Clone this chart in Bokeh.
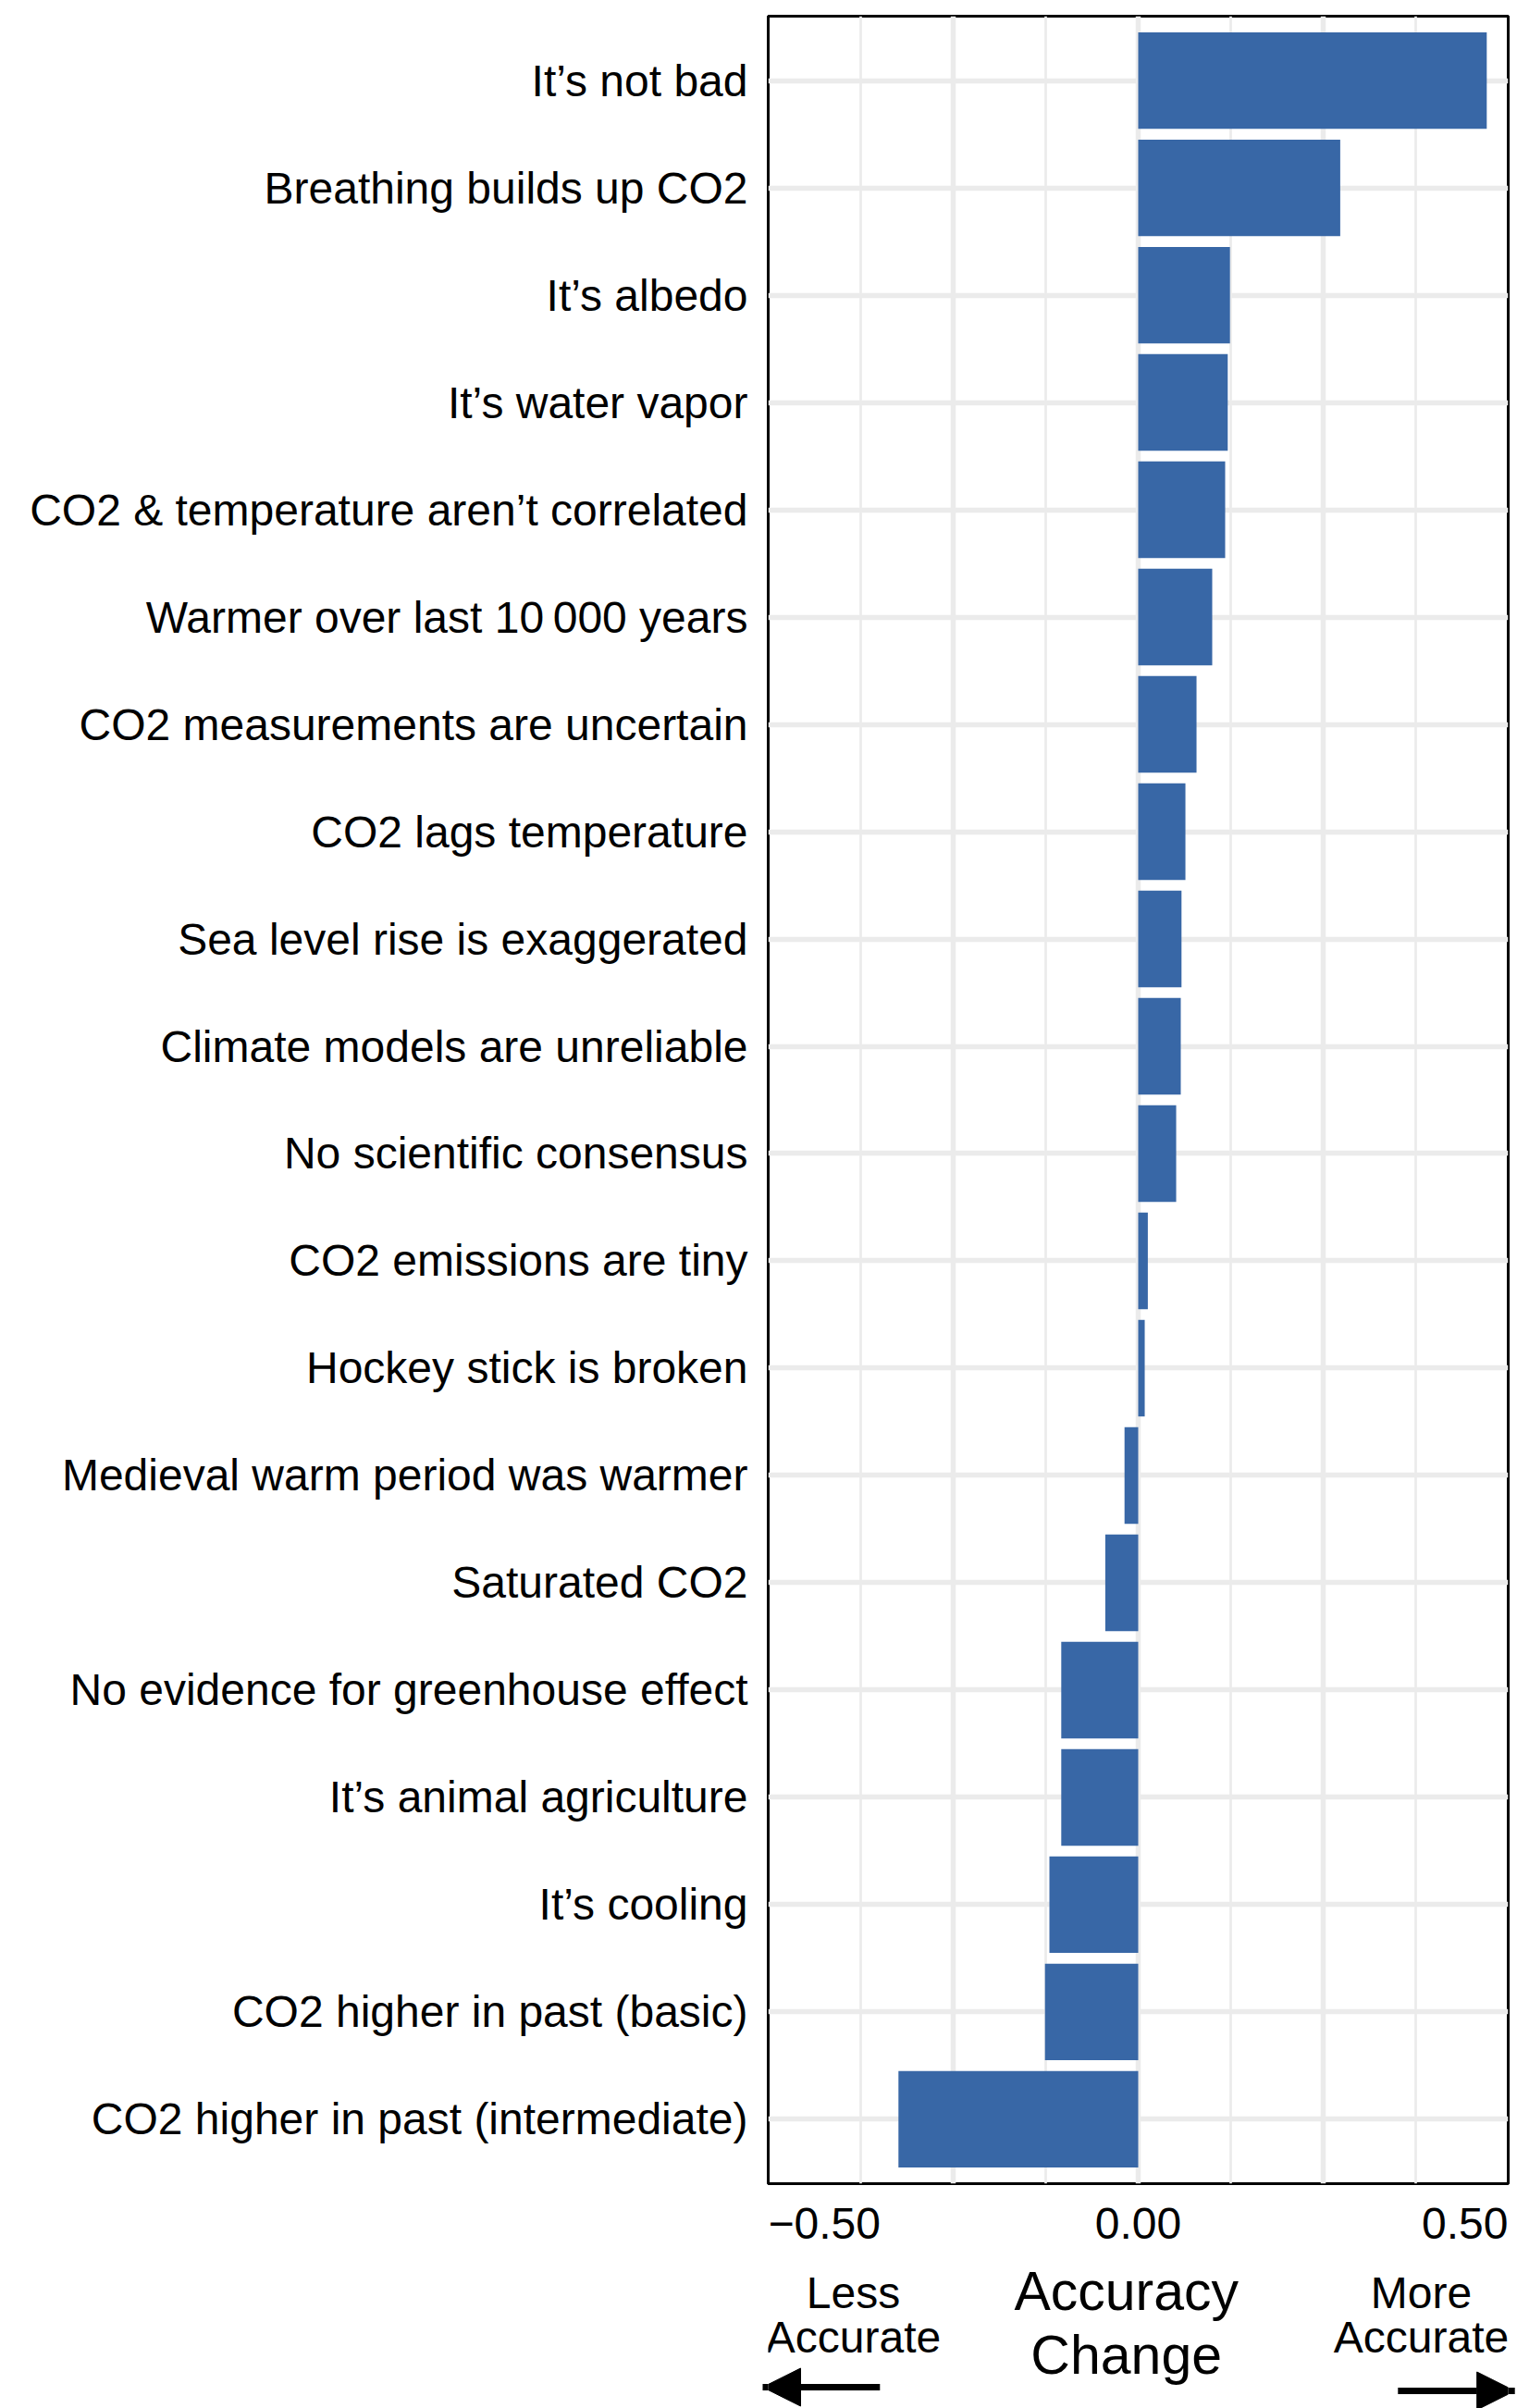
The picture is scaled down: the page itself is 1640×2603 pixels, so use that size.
from bokeh.plotting import figure
from bokeh.models import (Range1d, FactorRange, FixedTicker, Arrow, NormalHead,
                          ColumnDataSource, Grid, Label)
from bokeh.layouts import column
from bokeh.embed import file_html
from bokeh.resources import INLINE

# ---------------- data ----------------
categories = [
    "It\u2019s not bad",
    "Breathing builds up CO2",
    "It\u2019s albedo",
    "It\u2019s water vapor",
    "CO2 & temperature aren\u2019t correlated",
    "Warmer over last 10\u2009000 years",
    "CO2 measurements are uncertain",
    "CO2 lags temperature",
    "Sea level rise is exaggerated",
    "Climate models are unreliable",
    "No scientific consensus",
    "CO2 emissions are tiny",
    "Hockey stick is broken",
    "Medieval warm period was warmer",
    "Saturated CO2",
    "No evidence for greenhouse effect",
    "It\u2019s animal agriculture",
    "It\u2019s cooling",
    "CO2 higher in past (basic)",
    "CO2 higher in past (intermediate)",
]
accuracy_change = [
    0.471, 0.273, 0.124, 0.121, 0.1175, 0.100, 0.0788, 0.0638, 0.0585, 0.0575,
    0.0513, 0.013, 0.0088, -0.0185, -0.0445, -0.104, -0.104, -0.120, -0.126, -0.324,
]
x_ticks = [-0.5, 0.0, 0.5]
x_tick_labels = ["\u22120.50", "0.00", "0.50"]
major_grid = [-0.25, 0.0, 0.25]
minor_grid = [-0.375, -0.125, 0.125, 0.375]
axis_title_lines = ["Accuracy", "Change"]
less_lines = ["Less", "Accurate"]
more_lines = ["More", "Accurate"]

# ---------------- layout / style ----------------
W = 1640
FRAME_L = 830
FRAME_R = 10
TOP = 17
H1 = 2364
H2 = 2603 - H1
FONT = "Liberation Sans"
BAR = "#3867A6"
GRID = "#EBEBEB"

p = figure(
    width=W, height=H1,
    x_range=Range1d(-0.5, 0.5),
    y_range=FactorRange(factors=categories[::-1], range_padding=0.1,
                        range_padding_units="absolute"),
    x_axis_location=None,
    output_backend="svg", toolbar_location=None,
    min_border_left=FRAME_L, min_border_right=FRAME_R,
    min_border_top=TOP, min_border_bottom=4,
)
p.background_fill_color = "white"
p.border_fill_color = "white"
p.outline_line_color = "black"
p.outline_line_width = 3
p.outline_line_alpha = 1.0

p.xgrid.visible = False
xg = Grid(dimension=0, ticker=FixedTicker(ticks=major_grid, minor_ticks=minor_grid),
          grid_line_color=GRID, grid_line_width=5.5,
          minor_grid_line_color=GRID, minor_grid_line_width=2.7)
p.add_layout(xg, "center")
p.ygrid.grid_line_color = GRID
p.ygrid.grid_line_width = 5.5

src = ColumnDataSource(dict(cat=categories, val=accuracy_change))
p.hbar(y="cat", left=0, right="val", height=0.9, source=src,
       fill_color=BAR, line_color=None)

ax = p.yaxis[0]
ax.axis_line_color = None
ax.major_tick_line_color = None
ax.minor_tick_line_color = None
ax.major_tick_in = 0
ax.major_tick_out = 0
ax.major_label_standoff = 22
ax.major_label_text_font = FONT
ax.major_label_text_font_size = "48px"
ax.major_label_text_color = "black"

# ---------------- bottom strip: tick labels, title, arrows ----------------
p2 = figure(
    width=W, height=H2,
    x_range=Range1d(-0.5, 0.5),
    y_range=Range1d(H2, 0),
    x_axis_location=None, y_axis_location=None,
    output_backend="svg", toolbar_location=None,
    min_border_left=FRAME_L, min_border_right=FRAME_R,
    min_border_top=0, min_border_bottom=0,
)
p2.outline_line_color = None
p2.background_fill_color = "white"
p2.border_fill_color = "white"
p2.grid.visible = False


def add_label(fig, x, y, text, align, size):
    fig.add_layout(Label(x=x, y=y, text=text, x_units="data", y_units="data",
                         text_align=align, text_baseline="alphabetic",
                         text_font=FONT, text_font_size=size, text_color="black"))


for xv, lab, al in zip(x_ticks, x_tick_labels, ["left", "center", "right"]):
    add_label(p2, xv, 39, lab, al, "48px")

for line, yv in zip(less_lines, [114, 162]):
    add_label(p2, -0.385, yv, line, "center", "48px")
for line, yv in zip(more_lines, [114, 162]):
    add_label(p2, 0.3825, yv, line, "center", "48px")
for line, yv in zip(axis_title_lines, [112, 181]):
    add_label(p2, -0.016, yv, line, "center", "59px")

p2.add_layout(Arrow(end=NormalHead(size=41, fill_color="black", line_color="black"),
                    x_start=-0.349, y_start=216, x_end=-0.5075, y_end=216,
                    line_width=7, line_color="black"))
p2.add_layout(Arrow(end=NormalHead(size=41, fill_color="black", line_color="black"),
                    x_start=0.351, y_start=220, x_end=0.509, y_end=220,
                    line_width=7, line_color="black"))

layout = column(p, p2, spacing=0)
open("out.html", "w").write(file_html(layout, INLINE))
